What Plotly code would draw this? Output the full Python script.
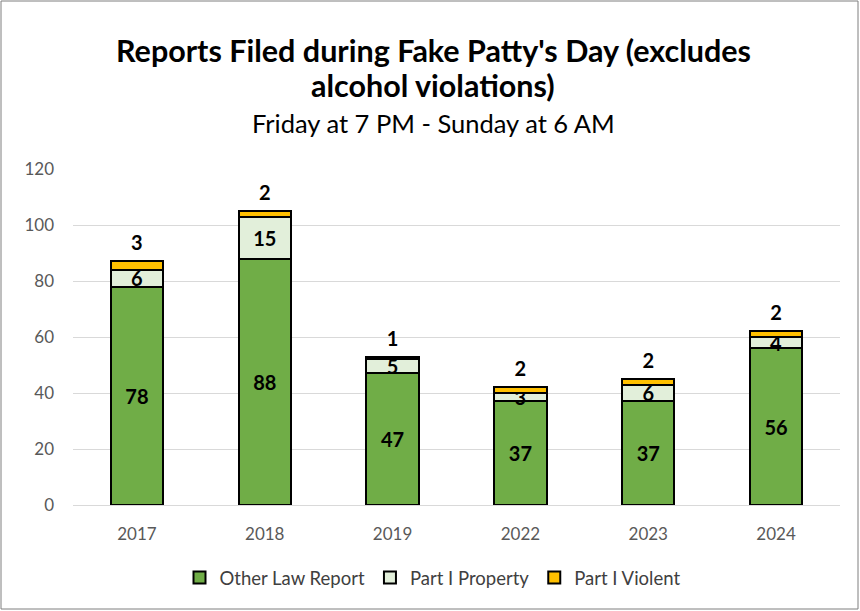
import plotly.graph_objects as go

years = ["2017", "2018", "2019", "2022", "2023", "2024"]
other_law = [78, 88, 47, 37, 37, 56]
property_ = [6, 15, 5, 3, 6, 4]
violent = [3, 2, 1, 2, 2, 2]

title_lines = ["Reports Filed during Fake Patty's Day (excludes", "alcohol violations)"]
subtitle = "Friday at 7 PM - Sunday at 6 AM"

W, H = 860, 611
L, R, T, B = 73, 20, 169, 106
pw, ph = W - L - R, H - T - B

font = "Lato, 'Open Sans', sans-serif"
outline = dict(color="black", width=2)
lbl = dict(size=20, color="black", family=font, weight="bold")


def py(p):
    # pixel row -> paper y
    return (H - B - p) / ph


def px(p):
    return (p - L) / pw


fig = go.Figure()
fig.add_trace(go.Bar(x=years, y=other_law, name="Other Law Report",
                     marker=dict(color="#70AD47", line=outline),
                     text=other_law, textposition="inside", insidetextanchor="middle",
                     textangle=0, textfont=lbl))
fig.add_trace(go.Bar(x=years, y=property_, name="Part I Property",
                     marker=dict(color="#E2EFDA", line=outline),
                     text=property_, textposition="inside", insidetextanchor="middle",
                     textangle=0, constraintext="none", textfont=lbl))
fig.add_trace(go.Bar(x=years, y=violent, name="Part I Violent",
                     marker=dict(color="#FFC000", line=outline)))

# violent counts sit above the stacks
totals = [a + b + c for a, b, c in zip(other_law, property_, violent)]
fig.add_trace(go.Scatter(x=years, y=totals, text=violent, mode="markers+text",
                         marker=dict(size=8, opacity=0),
                         textposition="top center", textfont=lbl,
                         showlegend=False, hoverinfo="skip"))

# title as separate lines for tighter spacing
for txt, row in zip(title_lines, [50, 85]):
    fig.add_annotation(text="<b>" + txt + "</b>", xref="paper", yref="paper",
                       x=px(W / 2 + 3), y=py(row), xanchor="center", yanchor="middle",
                       showarrow=False, font=dict(size=30.5, color="black", family=font))
fig.add_annotation(text=subtitle, xref="paper", yref="paper",
                   x=px(W / 2 + 3), y=py(123), xanchor="center", yanchor="middle",
                   showarrow=False, font=dict(size=25.5, color="black", family=font))

# chart frame
fig.add_shape(type="rect", xref="paper", yref="paper",
              x0=px(1), x1=px(W - 2), y0=py(H - 2), y1=py(1),
              line=dict(color="#7F7F7F", width=1))

fig.update_layout(
    width=W, height=H, barmode="stack", bargap=0.59,
    margin=dict(l=L, r=R, t=T, b=B),
    paper_bgcolor="white", plot_bgcolor="white",
    font=dict(family=font, color="#595959"),
    uniformtext=dict(mode="show", minsize=10),
    legend=dict(orientation="h", x=0.5 - 24 / pw, xanchor="center", y=py(578), yanchor="middle",
                font=dict(size=18.5, color="#404040"), traceorder="normal"),
    xaxis=dict(type="category", showline=True, linecolor="#D9D9D9", linewidth=1, ticks="",
               ticklabelstandoff=14, tickfont=dict(size=17, color="#595959")),
    yaxis=dict(range=[0, 120], dtick=20, showgrid=True, gridcolor="#D9D9D9", gridwidth=1,
               zeroline=False, ticks="", ticklabelstandoff=18, tickfont=dict(size=17, color="#595959")),
)

fig.write_html("out.html", config={"displayModeBar": False},
               post_script="document.body.style.margin='0';")
